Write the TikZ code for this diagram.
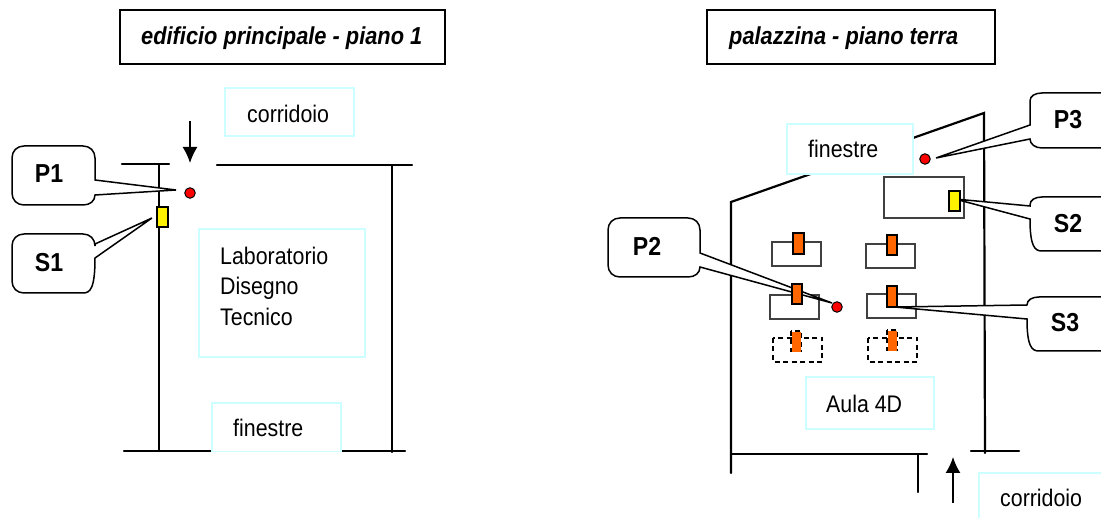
\documentclass[tikz,border=0pt]{standalone}
\usepackage{fontspec}
\setmainfont[FakeStretch=0.89]{Liberation Sans}
\usetikzlibrary{arrows.meta}
\definecolor{palecyan}{HTML}{CCFFFF}
\definecolor{deskorange}{HTML}{FF6600}
\tikzset{
  x=1pt,y=-1pt,
  wall/.style={line width=2.2pt,black,line cap=round},
  titlebox/.style={draw=black,line width=1.7pt,fill=white},
  labelbox/.style={draw=palecyan,line width=1.5pt,fill=white},
  desk/.style={draw=black!75,line width=1.5pt,fill=white},
  deskdash/.style={draw=black,line width=1.4pt,dash pattern=on 5pt off 3.5pt},
  sensor/.style={draw=black,line width=1.4pt,fill=#1},
  point/.style={circle,draw=black,line width=1pt,fill=red,minimum size=10.5pt,inner sep=0pt},
  callout/.style={draw=black,line width=1.5pt,fill=white},
  walltext/.style={anchor=base west,inner sep=0pt,font=\fontsize{24}{30.5}\selectfont},
  calltext/.style={anchor=base,inner sep=0pt,font=\fontsize{26}{30}\selectfont\bfseries},
  titletext/.style={anchor=base west,inner sep=0pt,font=\fontsize{24.5}{30}\selectfont\bfseries\itshape},
  flow/.style={line width=1.6pt,-{Latex[length=16pt,width=15pt]}},
}
% callout with its tail on the right side: left, top, right, bottom, tail y1, y2, tip x, tip y
\newcommand{\calloutR}[8]{\draw[callout] (#3,#5) -- (#7,#8) -- (#3,#6)
  .. controls (#3,#4-4) and (#3-5,#4) .. (#3-12,#4)
  -- (#1+12,#4) .. controls (#1+5,#4) and (#1,#4-5) .. (#1,#4-12)
  -- (#1,#2+12) .. controls (#1,#2+5) and (#1+5,#2) .. (#1+12,#2)
  -- (#3-12,#2) .. controls (#3-5,#2) and (#3,#2+5) .. (#3,#2+12) -- cycle;}
% same, with the tail on the left side
\newcommand{\calloutL}[8]{\draw[callout] (#1,#5) -- (#7,#8) -- (#1,#6)
  .. controls (#1,#4-4) and (#1+5,#4) .. (#1+12,#4)
  -- (#3-12,#4) .. controls (#3-5,#4) and (#3,#4-5) .. (#3,#4-12)
  -- (#3,#2+12) .. controls (#3,#2+5) and (#3-5,#2) .. (#3-12,#2)
  -- (#1+12,#2) .. controls (#1+5,#2) and (#1,#2+3) .. (#1,#2+8) -- cycle;}
\begin{document}
\begin{tikzpicture}
\useasboundingbox (0,0) rectangle (1101,518);
\clip (0,0) rectangle (1101,518);
\fill[white] (0,0) rectangle (1101,518);

% ---------- left plan
\draw[titlebox] (120,10) rectangle (445,64);
\node[titletext] (t1) at (141,45) {edificio principale - piano 1};

\draw[wall] (122,164) -- (169,164);
\draw[wall] (217,165) -- (412,165);
\draw[wall] (159,164) -- (159,451);
\draw[wall] (392,165) -- (392,452);
\draw[wall] (124,451) -- (405,451);

\draw[labelbox] (225,88) rectangle (354,136);
\node[walltext] (c1) at (247,123) {corridoio};
\draw[labelbox] (199,229) rectangle (365,357);
\node[walltext,align=left,anchor=north west] (lab) at (220,246.5) {Laboratorio\\Disegno\\Tecnico};
\draw[labelbox] (212,403) rectangle (341,451.5);
\node[walltext] (f1) at (233,437) {finestre};

\coordinate (a1s) at (190,121);
\coordinate (a1e) at (190,163);
\draw[flow] (a1s) -- (a1e);

\calloutR{12}{146}{95}{205}{180}{195}{176}{190}
\node[calltext] (P1) at (49,183) {P1};
\calloutR{12}{234}{95}{293}{244}{258}{152}{218}
\node[calltext] (S1) at (49,272) {S1};
\node[point] (d1) at (190,193) {};
\draw[sensor=yellow] (157,207) rectangle (168,227);

% ---------- right plan
\draw[titlebox] (707,10) rectangle (995,64);
\node[titletext] (t2) at (729,45) {palazzina - piano terra};

\draw[wall] (731,473) -- (731,202) -- (984,113) -- (985,453);
\draw[wall] (971,451) -- (1019,451);
\draw[wall] (731,454) -- (927,454);
\draw[wall] (918,454) -- (918,492);

\draw[labelbox] (787,124) rectangle (913,174);
\node[walltext] (f2) at (808,158) {finestre};
\draw[labelbox] (806,377) rectangle (934,429);
\node[walltext] (a4) at (826,413) {Aula 4D};
\draw[labelbox] (979,473) rectangle (1120,530);
\node[walltext] (c2) at (1000,507) {corridoio};

\coordinate (a2s) at (953,503);
\coordinate (a2e) at (953,457);
\draw[flow] (a2s) -- (a2e);

% desks
\draw[desk] (884,177) rectangle (964,218);
\draw[desk] (772,242) rectangle (821,266);
\draw[desk] (866,244) rectangle (915,268);
\draw[desk] (770,295) rectangle (819,319);
\draw[desk] (867,294) rectangle (916,318);
\draw[deskdash] (773,338) rectangle (822,362);
\draw[deskdash] (868,338) rectangle (917,362);

% callouts
\calloutR{608}{218}{700}{277}{253}{267}{832}{303}
\node[calltext] (P2) at (647,256) {P2};
\calloutL{1030}{93}{1125}{148}{125}{139}{936}{158}
\node[calltext] (P3) at (1068,129) {P3};
\calloutL{1030}{197}{1125}{251}{206}{219}{955}{199}
\node[calltext] (S2) at (1068,233) {S2};
\calloutL{1027}{297}{1125}{351}{305}{319}{895}{307}
\node[calltext] (S3) at (1065,332) {S3};

% sensors
\draw[sensor=yellow] (949,191) rectangle (960,211);
\draw[sensor=deskorange] (793,233) rectangle (804,254);
\draw[sensor=deskorange] (887,235) rectangle (897,255);
\draw[sensor=deskorange] (792,284) rectangle (802,304);
\draw[sensor=deskorange] (887,286) rectangle (897,307);
\draw[deskdash] (791,331) rectangle (801,351);
\fill[deskorange] (792,332) rectangle (801,352);
\draw[deskdash] (887,330) rectangle (897,350);
\fill[deskorange] (888,331) rectangle (897,351);
\draw[black,line width=1.5pt] (895,307) -- (904,307);

\node[point] (d2) at (837,307) {};
\node[point] (d3) at (925,159) {};
\end{tikzpicture}
\end{document}
